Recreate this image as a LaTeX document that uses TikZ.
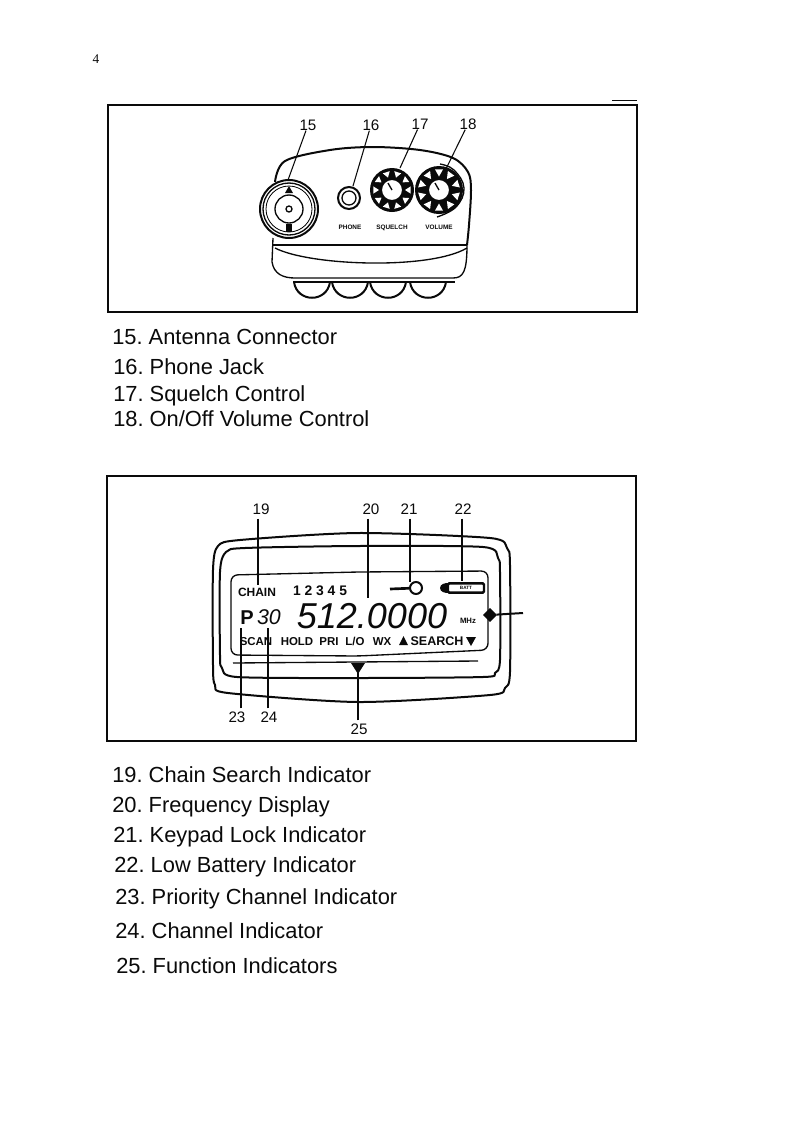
\documentclass[tikz,border=0pt]{standalone}
\usepackage{fontspec}
\setmainfont{Liberation Sans}
\newfontfamily\pagefont{Liberation Serif}
\usetikzlibrary{arrows.meta,positioning,shapes.geometric}
\definecolor{manInk}{HTML}{0A0A0A}
\frenchspacing
\tikzset{
  every picture/.style={text=manInk},
  man frame/.style={draw=manInk, line width=1.3pt},
  man line/.style={draw=manInk, line width=1pt},
  man heavy/.style={draw=manInk, line width=1.5pt},
  man leader/.style={draw=manInk, line width=0.8pt},
  man num/.style={font=\fontsize{11.4}{13}\selectfont, inner sep=0pt},
  man caption/.style={font=\fontsize{16.4}{18}\selectfont, anchor=base west, inner sep=0pt},
  man panel/.style={font=\bfseries\fontsize{4.8}{5}\selectfont, inner sep=0pt, anchor=base},
  man lcd/.style={font=\bfseries\fontsize{8.6}{9}\selectfont, inner sep=0pt, anchor=base}
}
\begin{document}
\begin{tikzpicture}[x=0.75pt,y=-0.75pt]
  \useasboundingbox (0,0) rectangle (794,1122);
  \node[inner sep=0pt, font=\pagefont\fontsize{10}{11}\selectfont] (page) at (96,59) {4};
  \draw[man leader, line width=0.5pt] (612,100) -- (637,100);
  % top panel
  \draw[man frame] (108,105) rectangle (637,312);
  \draw[man heavy] plot[smooth, tension=0.55] coordinates {(275,182) (285,161) (330,150) (373,147) (420,150) (453,158) (468,172) (471,190) (469,225) (467,245)};
  \draw[man heavy, line width=1.9pt] (272,245) -- (467,245);
  \draw[man line] (273,238) -- (272,262) .. controls (274,274) and (283,278) .. (295,278) -- (453,278) .. controls (463,278) and (467,272) .. (467,245);
  \draw[man line] (275,248) .. controls (310,266) and (430,270) .. (467,248);
  \draw[man line] (293,282) -- (455,282);
  \foreach \footx in {312,350,388,428} {
    \draw[man heavy] (\footx-18,282) .. controls (\footx-15,303) and (\footx+15,303) .. (\footx+18,282);
  }
  % antenna connector
  \begin{scope}[shift={(289,209)}]
    \draw[man heavy, fill=white] (0,0) circle (29);
    \draw[man line] (0,0) circle (26);
    \draw[line width=0.6pt] (0,0) circle (23);
    \draw[man line] (0,0) circle (14);
    \draw[man line] (0,0) circle (3);
    \fill[manInk] (-4,-16) -- (4,-16) -- (0,-23) -- cycle;
    \fill[manInk] (-3,15) rectangle (3,23);
  \end{scope}
  % phone jack
  \draw[man heavy] (349,198) circle (11);
  \draw[man line] (349,198) circle (7);
  % squelch knob
  \begin{scope}[shift={(392,190)}]
    \fill[manInk] (0,0) circle (22);
    \foreach \ribangle in {0,36,...,324} {
      \fill[white] (\ribangle-11:19) -- (\ribangle+11:19) -- (\ribangle:13) -- cycle;
    }
    \draw[man heavy, fill=white] (0,0) circle (11);
    \draw[man line] (0,0) -- (60:-8);
  \end{scope}
  % volume knob
  \begin{scope}[shift={(439,190)}]
    \fill[manInk] (0,0) circle (24);
    \foreach \ribangle in {18,54,...,342} {
      \fill[white] (\ribangle-11:21) -- (\ribangle+11:21) -- (\ribangle:13.5) -- cycle;
    }
    \draw[man heavy, fill=white] (0,0) circle (11);
    \draw[man line] (0,0) -- (60:-8);
  \end{scope}
  \draw[man line] plot[smooth, tension=0.7] coordinates {(440,164) (454,170) (464,188) (456,207) (437,217)};
  \node[man panel] (phone) at (350,229) {PHONE};
  \node[man panel] (squelch) at (392,229) {SQUELCH};
  \node[man panel] (volume) at (439,229) {VOLUME};
  % top numbers
  \node[man num] (n15) at (308,125) {15};
  \node[man num] (n16) at (371,125) {16};
  \node[man num] (n17) at (420,124) {17};
  \node[man num] (n18) at (468,124) {18};
  \coordinate (t15) at (288,180);
  \coordinate (t16) at (353,186);
  \coordinate (t17) at (400,168);
  \coordinate (t18) at (442,177);
  \foreach \numname/\tipname in {n15/t15,n16/t16,n17/t17,n18/t18} {
    \draw[man leader] (\numname) -- (\tipname);
  }
  \node[man caption] (c15) at (112,344) {15. Antenna Connector};
  \node[man caption] (c16) at (113,374) {16. Phone Jack};
  \node[man caption] (c17) at (113,401) {17. Squelch Control};
  \node[man caption] (c18) at (113,426) {18. On/Off Volume Control};
  % bottom panel
  \draw[man frame] (107,476) rectangle (636,741);
  \draw[man heavy] plot[smooth cycle, tension=0.45] coordinates {(213,570) (218,546) (240,540) (358,533) (490,538) (507,548) (510,565) (510,672) (505,688) (490,695) (358,702) (228,693) (215,685) (213,665)};
  \draw[man heavy] plot[smooth cycle, tension=0.45] coordinates {(220,572) (226,552) (245,548) (358,546) (483,547) (498,558) (500,572) (500,660) (495,673) (483,677) (358,678) (237,677) (222,668) (220,655)};
  \draw[man line, rounded corners=5pt] (231,575) -- (358,572) -- (488,571) -- (488,650) -- (358,656) -- (231,655) -- cycle;
  \draw[man line] (233,663) -- (478,661);
  \fill[manInk] (351,663) -- (365,663) -- (358,674) -- cycle;
  % display
  \node[man lcd, font=\bfseries\fontsize{9}{10}\selectfont] (chain) at (257,596) {CHAIN};
  \node[man lcd, font=\bfseries\fontsize{10.4}{11}\selectfont] (chans) at (320,595.5) {1 2 3 4 5};
  \node[draw=manInk, circle, line width=1.5pt, minimum size=9pt, inner sep=0pt] (key) at (416,588) {};
  \coordinate (keyend) at (390,589);
  \draw[man heavy, line width=2pt] (key) -- (keyend);
  \node[draw=manInk, line width=1.8pt, rounded corners=1pt, minimum width=27pt, minimum height=7pt, inner sep=0pt, font=\bfseries\fontsize{3.5}{4}\selectfont] (batt) at (466,588) {BATT};
  \fill[manInk] (440,588) .. controls (440,584) and (445,583) .. (448,583) -- (448,593) .. controls (445,593) and (440,592) .. (440,588) -- cycle;
  \node[inner sep=0pt, font=\bfseries\fontsize{15}{16}\selectfont] (prio) at (247,618) {P};
  \node[inner sep=0pt, font=\itshape\fontsize{16}{17}\selectfont] (chnum) at (269,617) {30};
  \node[inner sep=0pt, font=\itshape\fontsize{27}{30}\selectfont] (freq) at (372,616) {512.0000};
  \node[man panel, font=\bfseries\fontsize{5.8}{6}\selectfont] (mhz) at (468,623) {MHz};
  \node[man lcd] (scan) at (256,645) {SCAN};
  \node[man lcd] (hold) at (297,645) {HOLD};
  \node[man lcd] (pri) at (329,645) {PRI};
  \node[man lcd] (lo) at (355,645) {L/O};
  \node[man lcd] (wx) at (382,645) {WX};
  \node[man lcd, font=\bfseries\fontsize{9.4}{10}\selectfont] (search) at (437,645) {SEARCH};
  \fill[manInk] (399,645) -- (408,645) -- (403.5,636) -- cycle;
  \fill[manInk] (466,637) -- (476,637) -- (471,646) -- cycle;
  \node[draw=manInk, fill=manInk, diamond, minimum size=10pt, inner sep=0pt] (dot) at (490,615) {};
  \coordinate (dotend) at (523,613);
  \draw[man heavy] (dot) -- (dotend);
  % bottom numbers
  \node[man num] (n19) at (261,509) {19};
  \node[man num] (n20) at (371,509) {20};
  \node[man num] (n21) at (409,509) {21};
  \node[man num] (n22) at (463,509) {22};
  \node[man num] (n23) at (237,717) {23};
  \node[man num] (n24) at (269,717) {24};
  \node[man num] (n25) at (359,729) {25};
  \coordinate (t19) at (258,585);
  \coordinate (t20) at (368,598);
  \coordinate (t21) at (410,582);
  \coordinate (t22) at (462,581);
  \coordinate (t23) at (241,628);
  \coordinate (t24) at (268,628);
  \coordinate (t25) at (358,673);
  \foreach \numname/\tipname in {n19/t19,n20/t20,n21/t21,n22/t22} {
    \draw[man leader] (\tipname |- \numname.south) ++(0,4) -- (\tipname);
  }
  \foreach \numname/\tipname in {n23/t23,n24/t24,n25/t25} {
    \draw[man leader] (\tipname |- \numname.north) ++(0,-3) -- (\tipname);
  }
  \node[man caption] (c19) at (112,782) {19. Chain Search Indicator};
  \node[man caption] (c20) at (112,812) {20. Frequency Display};
  \node[man caption] (c21) at (113,842) {21. Keypad Lock Indicator};
  \node[man caption] (c22) at (114,872) {22. Low Battery Indicator};
  \node[man caption] (c23) at (115,904) {23. Priority Channel Indicator};
  \node[man caption] (c24) at (115,938) {24. Channel Indicator};
  \node[man caption] (c25) at (116,973) {25. Function Indicators};
\end{tikzpicture}
\end{document}
